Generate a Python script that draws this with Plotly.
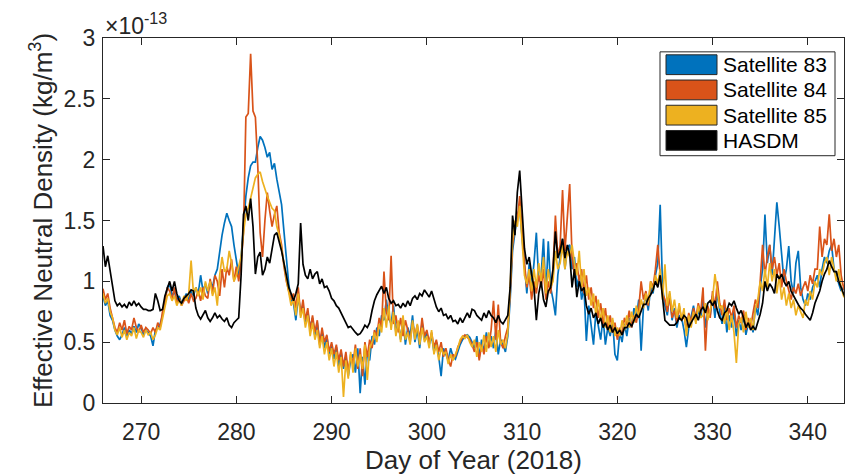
import numpy as np
import plotly.graph_objects as go

# ---------------- data (units of 1e-13 kg/m^3), 6-hourly from day 266.00 ----------------
start_day = 266.0
step_day = 0.25

hasdm = [
    1.29, 1.12, 1.21, 1.08,  0.95, 0.84, 0.80, 0.82,  0.79, 0.81, 0.78, 0.83,  0.80, 0.84, 0.80, 0.82,   # 266-269
    0.79, 0.77, 0.77, 0.76,  0.76, 0.77, 0.90, 0.84,  0.76, 0.77, 0.88, 0.95,  1.00, 0.92, 1.00, 0.90,   # 270-273
    0.84, 0.82, 0.86, 0.88,  0.90, 0.93, 0.92, 0.78,  0.72, 0.69, 0.73, 0.76,  0.70, 0.67, 0.70, 0.74,   # 274-277
    0.70, 0.72, 0.69, 0.67,  0.70, 0.64, 0.62, 0.66,  0.68, 0.70, 1.05, 1.55,  1.62, 1.50, 1.68, 1.45,   # 278-281
    1.06, 1.20, 1.24, 1.05,  1.10, 1.20, 1.15, 1.25,  1.38, 1.40, 1.33, 1.25,  1.15, 1.05, 0.95, 0.90,   # 282-285
    0.84, 0.90, 0.98, 1.48,  1.14, 1.05, 1.02, 1.10,  1.02, 1.06, 1.08, 0.98,  1.02, 0.95, 0.96, 0.92,   # 286-289
    0.86, 0.84, 0.80, 0.78,  0.74, 0.70, 0.66, 0.62,  0.63, 0.60, 0.58, 0.56,  0.57, 0.60, 0.64, 0.62,   # 290-293
    0.66, 0.76, 0.84, 0.89,  0.92, 0.96, 0.90, 0.95,  0.86, 0.82, 0.84, 0.80,  0.81, 0.78, 0.82, 0.79,   # 294-297
    0.84, 0.80, 0.86, 0.88,  0.85, 0.90, 0.88, 0.93,  0.90, 0.87, 0.92, 0.85,  0.79, 0.75, 0.78, 0.72,   # 298-301
    0.73, 0.69, 0.72, 0.67,  0.68, 0.65, 0.70, 0.66,  0.70, 0.74, 0.70, 0.77,  0.76, 0.72, 0.70, 0.68,   # 302-305
    0.74, 0.70, 0.76, 0.72,  0.70, 0.66, 0.72, 0.67,  0.65, 0.69, 0.72, 0.95,  1.54, 1.38, 1.73, 1.91,   # 306-309
    1.54, 1.27, 1.14, 1.20,  1.06, 0.95, 0.68, 0.90,  1.00, 0.85, 0.79, 0.92,  0.95, 1.10, 1.41, 1.19,   # 310-313
    1.25, 1.35, 1.19, 1.30,  1.22, 0.95, 1.10, 0.87,  1.00, 0.92, 0.95, 0.80,  0.73, 0.78, 0.70, 0.74,   # 314-317
    0.65, 0.70, 0.62, 0.66,  0.60, 0.64, 0.58, 0.62,  0.57, 0.60, 0.56, 0.62,  0.62, 0.66, 0.63, 0.68,   # 318-321
    0.73, 0.70, 0.76, 0.81,  0.81, 0.86, 0.89, 0.93,  1.00, 0.95, 1.05, 0.89,  0.68, 0.66, 0.64, 0.64,   # 322-325
    0.64, 0.66, 0.70, 0.68,  0.72, 0.70, 0.62, 0.66,  0.70, 0.73, 0.68, 0.76,  0.79, 0.74, 0.82, 0.84,   # 326-329
    0.80, 0.84, 0.76, 0.70,  0.68, 0.74, 0.76, 0.82,  0.80, 0.84, 0.78, 0.73,  0.76, 0.70, 0.62, 0.66,   # 330-333
    0.60, 0.63, 0.60, 0.66,  0.73, 0.82, 1.00, 0.92,  0.98, 0.95, 0.90, 1.06,  1.02, 1.06, 1.00, 0.96,   # 334-337
    1.00, 0.92, 0.88, 0.84,  0.81, 0.78, 0.76, 0.73,  0.70, 0.68, 0.74, 0.82,  0.87, 0.92, 1.00, 1.06,   # 338-341
    1.10, 1.17, 1.12, 1.08,  1.08, 1.00, 0.95, 0.90,  0.85,                                             # 342-344
]

sat83 = [
    0.88, 0.80, 0.84, 0.72,  0.68, 0.60, 0.55, 0.52,  0.56, 0.62, 0.55, 0.60,  0.57, 0.63, 0.58, 0.65,   # 266-269
    0.62, 0.56, 0.60, 0.58,  0.55, 0.47, 0.60, 0.62,  0.65, 0.72, 0.85, 0.95,  0.98, 0.88, 0.92, 0.84,   # 270-273
    0.88, 0.82, 0.86, 0.90,  0.85, 0.92, 0.88, 0.95,  0.90, 1.05, 0.92, 0.98,  0.90, 1.00, 0.95, 1.05,   # 274-277
    1.10, 1.25, 1.38, 1.48,  1.56, 1.50, 1.45, 1.30,  1.18, 1.05, 1.20, 1.45,  1.70, 1.85, 1.95, 1.98,   # 278-281
    1.98, 2.10, 2.19, 2.16,  2.10, 2.02, 2.06, 1.92,  1.97, 1.84, 1.72, 1.63,  1.41, 1.17, 0.98, 0.85,   # 282-285
    0.82, 0.68, 0.88, 0.75,  0.80, 0.65, 0.75, 0.62,  0.70, 0.55, 0.66, 0.50,  0.58, 0.45, 0.55, 0.40,   # 286-289
    0.48, 0.36, 0.46, 0.30,  0.42, 0.28, 0.38, 0.22,  0.35, 0.40, 0.25, 0.45,  0.08, 0.38, 0.15, 0.42,   # 290-293
    0.35, 0.55, 0.48, 0.62,  0.55, 0.72, 0.68, 0.85,  0.70, 0.65, 0.80, 0.58,  0.66, 0.52, 0.70, 0.48,   # 294-297
    0.62, 0.55, 0.72, 0.50,  0.60, 0.45, 0.66, 0.52,  0.58, 0.48, 0.55, 0.42,  0.50, 0.38, 0.22, 0.45,   # 298-301
    0.40, 0.35, 0.45, 0.38,  0.36, 0.42, 0.48, 0.52,  0.55, 0.56, 0.54, 0.50,  0.45, 0.55, 0.38, 0.52,   # 302-305
    0.42, 0.58, 0.46, 0.55,  0.45, 0.60, 0.40, 0.52,  0.48, 0.42, 0.55, 0.85,  1.25, 1.40, 1.55, 1.60,   # 306-309
    1.35, 1.10, 0.90, 1.15,  0.95, 1.15, 1.40, 1.00,  1.05, 1.35, 0.88, 1.33,  0.95, 0.85, 0.72, 1.05,   # 310-313
    1.20, 1.35, 1.10, 1.28,  1.30, 1.10, 1.20, 0.95,  1.05, 0.85, 0.95, 0.51,  0.80, 0.62, 0.48, 0.75,   # 314-317
    0.65, 0.52, 0.70, 0.48,  0.62, 0.55, 0.68, 0.40,  0.35, 0.58, 0.50, 0.65,  0.55, 0.70, 0.62, 0.78,   # 318-321
    0.70, 0.85, 0.43, 0.80,  0.88, 0.76, 0.95, 0.90,  1.05, 1.15, 1.63, 0.95,  0.80, 0.72, 0.90, 0.68,   # 322-325
    0.78, 0.62, 0.72, 0.70,  0.60, 0.46, 0.62, 0.72,  0.80, 0.68, 0.76, 0.70,  0.85, 0.62, 0.78, 0.72,   # 326-329
    0.88, 0.70, 0.92, 0.75,  0.65, 0.80, 0.58, 0.72,  0.62, 0.75, 0.55, 0.68,  0.60, 0.72, 0.56, 0.65,   # 330-333
    0.68, 0.58, 0.80, 0.72,  0.95, 1.10, 1.55, 1.15,  1.30, 1.05, 1.40, 1.65,  1.45, 1.20, 1.00, 1.10,   # 334-337
    1.29, 1.00, 0.90, 1.15,  1.25, 0.95, 0.85, 0.80,  0.90, 0.85, 0.95, 1.00,  1.05, 0.95, 1.10, 1.20,   # 338-341
    1.15, 1.25, 1.30, 1.10,  1.05, 0.98, 0.92, 0.95,  0.90,                                             # 342-344
]

sat84 = [
    0.94, 0.85, 0.90, 0.78,  0.70, 0.62, 0.58, 0.66,  0.60, 0.68, 0.57, 0.63,  0.60, 0.70, 0.62, 0.58,   # 266-269
    0.64, 0.58, 0.62, 0.60,  0.57, 0.62, 0.58, 0.66,  0.62, 0.75, 0.82, 0.95,  0.92, 0.85, 0.95, 0.82,   # 270-273
    0.86, 0.80, 0.84, 0.88,  0.82, 0.90, 0.84, 0.86,  0.92, 0.84, 0.95, 0.88,  0.86, 1.02, 0.90, 1.05,   # 274-277
    1.00, 0.88, 1.10, 0.95,  1.12, 1.05, 1.18, 1.00,  1.12, 1.00, 1.15, 1.40,  2.35, 2.38, 2.87, 2.40,   # 278-281
    2.35, 1.95, 1.40, 1.20,  1.50, 1.73, 1.58, 1.45,  1.55, 1.62, 1.40, 1.30,  1.12, 1.00, 0.92, 0.85,   # 282-285
    0.90, 0.78, 0.95, 0.72,  0.85, 0.68, 0.78, 0.60,  0.72, 0.58, 0.68, 0.48,  0.62, 0.50, 0.56, 0.42,   # 286-289
    0.50, 0.40, 0.48, 0.35,  0.44, 0.30, 0.42, 0.26,  0.40, 0.32, 0.48, 0.28,  0.45, 0.22, 0.50, 0.38,   # 290-293
    0.52, 0.45, 0.60, 0.55,  0.70, 0.62, 1.08, 0.75,  0.68, 1.21, 0.65, 0.72,  0.58, 0.70, 0.55, 0.68,   # 294-297
    0.60, 0.50, 0.66, 0.56,  0.64, 0.52, 0.70, 0.55,  0.60, 0.50, 0.58, 0.46,  0.52, 0.42, 0.50, 0.38,   # 298-301
    0.45, 0.36, 0.30, 0.40,  0.38, 0.46, 0.50, 0.54,  0.56, 0.54, 0.52, 0.48,  0.42, 0.50, 0.35, 0.48,   # 302-305
    0.40, 0.55, 0.45, 0.60,  0.84, 0.52, 0.81, 0.50,  0.45, 0.55, 0.62, 0.90,  1.30, 1.45, 1.50, 1.70,   # 306-309
    1.40, 1.15, 0.95, 1.05,  0.85, 1.00, 0.90, 1.05,  0.95, 1.10, 0.85, 1.00,  0.90, 1.10, 1.54, 1.20,   # 310-313
    1.30, 1.75, 1.25, 1.50,  1.80, 1.20, 1.05, 1.15,  1.00, 1.10, 0.90, 1.05,  0.85, 0.95, 0.78, 0.88,   # 314-317
    0.70, 0.82, 0.65, 0.78,  0.60, 0.72, 0.58, 0.66,  0.52, 0.62, 0.56, 0.70,  0.64, 0.76, 0.62, 0.72,   # 318-321
    0.66, 0.78, 1.00, 0.85,  0.92, 0.80, 1.00, 0.95,  1.10, 1.30, 1.05, 0.90,  0.85, 0.75, 0.88, 0.70,   # 322-325
    0.76, 0.66, 0.80, 0.68,  0.72, 0.60, 0.74, 0.66,  0.78, 0.70, 0.82, 0.74,  0.95, 0.43, 0.80, 0.70,   # 326-329
    0.92, 0.78, 1.00, 0.82,  0.72, 0.85, 0.68, 0.78,  0.70, 0.80, 0.62, 0.72,  0.66, 0.76, 0.60, 0.70,   # 330-333
    0.62, 0.74, 0.85, 0.78,  1.00, 1.30, 1.05, 1.20,  1.30, 1.10, 1.20, 1.05,  1.15, 0.95, 1.10, 1.00,   # 334-337
    0.92, 0.85, 0.95, 0.90,  0.98, 0.88, 0.95, 1.00,  0.92, 1.05, 0.98, 1.10,  1.10, 1.45, 1.20, 1.35,   # 338-341
    1.30, 1.55, 1.25, 1.35,  1.20, 1.30, 1.05, 0.95,  0.90,                                             # 342-344
]

sat85 = [
    0.90, 0.82, 0.86, 0.75,  0.70, 0.60, 0.56, 0.62,  0.54, 0.60, 0.52, 0.58,  0.55, 0.62, 0.53, 0.60,   # 266-269
    0.58, 0.54, 0.60, 0.56,  0.58, 0.52, 0.56, 0.62,  0.60, 0.70, 0.80, 0.88,  0.90, 0.84, 0.88, 0.80,   # 270-273
    0.85, 0.80, 0.88, 0.84,  0.90, 1.17, 0.90, 0.95,  0.88, 0.95, 0.85, 1.00,  0.92, 1.00, 0.88, 0.95,   # 274-277
    0.80, 1.05, 1.20, 1.08,  1.10, 1.25, 1.15, 1.00,  1.05, 1.12, 1.20, 1.40,  1.55, 1.60, 1.68, 1.75,   # 278-281
    1.85, 1.88, 1.90, 1.82,  1.75, 1.70, 1.65, 1.60,  1.58, 1.45, 1.38, 1.28,  1.15, 1.02, 0.92, 0.80,   # 282-285
    0.85, 0.72, 0.90, 0.70,  0.78, 0.62, 0.72, 0.55,  0.66, 0.52, 0.60, 0.45,  0.55, 0.40, 0.50, 0.35,   # 286-289
    0.45, 0.30, 0.42, 0.25,  0.38, 0.05, 0.35, 0.20,  0.42, 0.25, 0.45, 0.30,  0.40, 0.28, 0.48, 0.19,   # 290-293
    0.45, 0.50, 0.58, 0.50,  0.65, 0.58, 0.78, 0.62,  0.80, 0.60, 0.75, 0.55,  0.68, 0.50, 0.72, 0.52,   # 294-297
    0.58, 0.48, 0.68, 0.52,  0.65, 0.48, 0.62, 0.50,  0.55, 0.45, 0.60, 0.40,  0.48, 0.35, 0.45, 0.40,   # 298-301
    0.42, 0.32, 0.40, 0.35,  0.40, 0.45, 0.52, 0.55,  0.53, 0.56, 0.50, 0.46,  0.52, 0.38, 0.50, 0.42,   # 302-305
    0.56, 0.42, 0.58, 0.46,  0.55, 0.42, 0.60, 0.48,  0.52, 0.45, 0.58, 0.95,  1.35, 1.50, 1.45, 1.62,   # 306-309
    1.30, 1.05, 0.98, 1.10,  0.92, 1.10, 0.95, 1.15,  1.00, 1.20, 0.90, 1.10,  0.95, 1.00, 1.25, 1.10,   # 310-313
    1.15, 1.30, 1.10, 1.25,  1.20, 1.30, 1.15, 1.05,  1.25, 0.95, 1.10, 0.88,  0.95, 0.80, 0.90, 0.72,   # 314-317
    0.85, 0.68, 0.78, 0.62,  0.72, 0.58, 0.70, 0.55,  0.62, 0.55, 0.68, 0.60,  0.72, 0.62, 0.75, 0.66,   # 318-321
    0.80, 0.70, 0.85, 0.78,  0.90, 0.82, 1.00, 0.92,  1.05, 0.98, 1.10, 0.85,  1.14, 0.80, 0.92, 0.75,   # 322-325
    0.85, 0.70, 0.82, 0.68,  0.78, 0.55, 0.72, 0.62,  0.75, 0.65, 0.80, 0.70,  0.72, 0.82, 0.68, 0.76,   # 326-329
    0.85, 1.06, 0.90, 0.78,  0.80, 0.65, 0.78, 0.60,  0.72, 0.58, 0.33, 0.65,  0.70, 0.58, 0.75, 0.62,   # 330-333
    0.70, 0.60, 0.78, 0.85,  1.00, 0.92, 1.10, 0.95,  1.15, 1.00, 1.10, 0.90,  1.05, 0.85, 0.95, 0.80,   # 334-337
    0.90, 0.78, 0.85, 0.72,  0.80, 0.75, 0.70, 0.85,  0.80, 0.92, 0.85, 1.00,  0.95, 1.10, 1.05, 1.15,   # 338-341
    1.20, 1.05, 1.20, 1.10,  1.00, 1.10, 0.95, 0.88,  0.85,                                             # 342-344
]

series_names = ["Satellite 83", "Satellite 84", "Satellite 85", "HASDM"]
series_colors = ["#0072BD", "#D95319", "#EDB120", "#000000"]
x_ticks = [270, 280, 290, 300, 310, 320, 330, 340]
y_ticks = [0, 0.5, 1, 1.5, 2, 2.5, 3]
y_tick_text = ["0", "0.5", "1", "1.5", "2", "2.5", "3"]

# ---------------- figure ----------------
W, H = 858, 476
ML, MR, MT, MB = 103, 14, 38, 69
PW, PH = W - ML - MR, H - MT - MB
FONT = "Liberation Sans, Arial, Helvetica, sans-serif"
AXC = "#262626"

fig = go.Figure()
for name, vals, col in zip(series_names, [sat83, sat84, sat85, hasdm], series_colors):
    days = start_day + step_day * np.arange(len(vals))
    fig.add_trace(go.Scatter(x=days, y=vals, mode="lines", name=name,
                             line=dict(color=col, width=1.7), showlegend=False))

axis_common = dict(showline=True, linecolor=AXC, linewidth=1, mirror="ticks",
                   ticks="inside", ticklen=7, tickcolor=AXC, tickwidth=1,
                   showgrid=False, zeroline=False,
                   tickfont=dict(family=FONT, size=23, color=AXC))

fig.update_layout(
    width=W, height=H,
    margin=dict(l=ML, r=MR, t=MT, b=MB, pad=0),
    paper_bgcolor="white", plot_bgcolor="white",
    font=dict(family=FONT, color=AXC),
    xaxis=dict(range=[266, 343.8], tickvals=x_ticks, ticklabelstandoff=8,
               title=dict(text="Day of Year (2018)", font=dict(family=FONT, size=26, color=AXC), standoff=1),
               **axis_common),
    yaxis=dict(range=[0, 3], tickvals=y_ticks, ticktext=y_tick_text, ticklabelstandoff=2,
               title=dict(text="Effective Neutral Density (kg/m<sup>3</sup>)",
                          font=dict(family=FONT, size=26, color=AXC), standoff=3),
               **axis_common),
)

# exponent label
fig.add_annotation(text="×10<sup>-13</sup>", xref="paper", yref="paper", x=0.0, y=1.0,
                   xanchor="left", yanchor="bottom", showarrow=False, yshift=-3,
                   font=dict(family=FONT, size=23, color=AXC))

# legend (MATLAB-style patches), pixel geometry converted to paper coords
def px(xp):
    return (xp - ML) / PW

def py(yp):
    return (H - MB - yp) / PH

fig.add_shape(type="rect", xref="paper", yref="paper",
              x0=px(660), x1=px(835), y0=py(157), y1=py(52),
              line=dict(color=AXC, width=1), fillcolor="white", layer="above")
row_centers = [65, 90.5, 116, 141.5]
for name, col, yc in zip(series_names, series_colors, row_centers):
    fig.add_shape(type="rect", xref="paper", yref="paper",
                  x0=px(666), x1=px(717), y0=py(yc + 10), y1=py(yc - 10),
                  line=dict(color=AXC, width=1), fillcolor=col, layer="above")
    fig.add_annotation(text=name, xref="paper", yref="paper", x=px(721), y=py(yc),
                       xanchor="left", yanchor="middle", showarrow=False,
                       font=dict(family=FONT, size=21, color="#000000"))

fig.write_html("out.html")
